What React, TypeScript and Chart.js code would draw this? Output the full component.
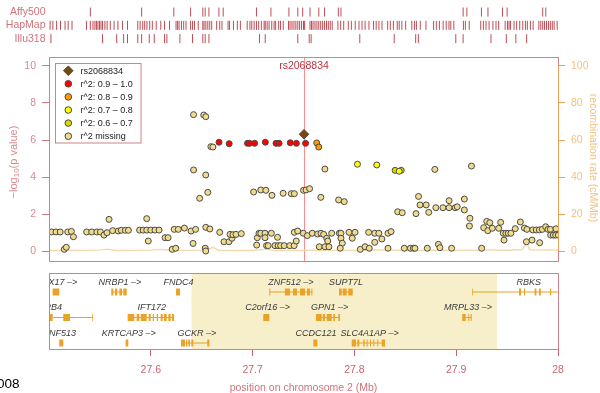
import { useEffect, useRef } from 'react';
import { Chart, registerables } from 'chart.js';

Chart.register(...registerables);

const FONT = '"Liberation Sans", Arial, Helvetica, sans-serif';

// ---------- axis data ----------
const xTicks = [27.6, 27.7, 27.8, 27.9, 28];
const yTicks = [0, 2, 4, 6, 8, 10];
const recombTicks = [0, 20, 40, 60, 80, 100];
const highlightRegion = [27.64, 27.94];
const indexName = 'rs2068834';

// ---------- association results (position Mb, -log10 p) ----------
const indexSnp: [number, number][] = [[27.7505, 6.31]];
const snpR2_09_10: [number, number][] = [
  [27.667, 5.88], [27.677, 5.8], [27.695, 5.82], [27.697, 5.82], [27.702, 5.82], [27.7125, 5.88],
  [27.723, 5.82], [27.726, 5.82], [27.737, 5.85], [27.743, 5.82], [27.752, 5.82],
];
const snpR2_08_09: [number, number][] = [[27.763, 5.84], [27.765, 5.62]];
const snpR2_07_08: [number, number][] = [[27.803, 4.69], [27.822, 4.65], [27.844, 4.31]];
const snpR2_06_07: [number, number][] = [[27.84, 4.36], [27.846, 4.36]];
const snpR2Missing: [number, number][] = [
  [27.5026, 1.03], [27.5069, 1.03], [27.511, 1.03], [27.5184, 1.03], [27.522, 1.06], [27.524, 0.77],
  [27.515, 0.09], [27.517, 0.2], [27.537, 1.03], [27.542, 1.03], [27.547, 1.03], [27.5505, 1.03],
  [27.554, 0.86], [27.557, 0.99], [27.559, 1.71], [27.5625, 1.1], [27.568, 1.08], [27.571, 1.12],
  [27.575, 1.12], [27.578, 1.12], [27.589, 1.13], [27.5925, 1.13], [27.596, 1.13], [27.6, 1.13],
  [27.596, 1.75], [27.5975, 0.54], [27.6041, 1.13], [27.6081, 1.13], [27.614, 0.72], [27.617, 0.72],
  [27.623, 1.17], [27.627, 1.17], [27.633, 1.24], [27.6395, 1.08], [27.644, 1.17], [27.6415, 0.41],
  [27.621, 0.09], [27.6245, 0.15], [27.654, 1.28], [27.658, 1.19], [27.6535, 0.15], [27.654, 0.0],
  [27.6677, 1.01], [27.6719, 0.5], [27.6768, 0.5], [27.6798, 0.69], [27.6778, 0.9], [27.6807, 0.88],
  [27.6837, 0.9], [27.6889, 0.94], [27.7046, 0.72], [27.704, 0.32], [27.7063, 0.96], [27.708, 0.96],
  [27.7122, 0.96], [27.7184, 0.96], [27.7122, 0.72], [27.7245, 0.74], [27.7137, 0.29], [27.7153, 0.29],
  [27.722, 0.29], [27.7251, 0.29], [27.7275, 0.29], [27.731, 0.29], [27.7365, 0.29], [27.7408, 0.29],
  [27.7429, 0.54], [27.741, 1.01], [27.7443, 1.08], [27.7498, 0.96], [27.7537, 0.83], [27.7586, 0.96],
  [27.7639, 0.92], [27.7672, 0.96], [27.7698, 0.9], [27.7728, 0.69], [27.7738, 0.54], [27.7777, 0.96],
  [27.7852, 0.96], [27.7868, 0.96], [27.7868, 0.69], [27.7881, 0.42], [27.7947, 1.01], [27.8006, 1.01],
  [27.7979, 0.69], [27.7655, 0.23], [27.7711, 0.23], [27.775, 0.23], [27.7861, 0.15], [27.8058, 0.09],
  [27.8104, 0.23], [27.8146, 0.15], [27.814, 1.01], [27.82, 0.96], [27.824, 0.96], [27.833, 0.96],
  [27.836, 1.05], [27.82, 0.47], [27.827, 0.65], [27.833, 0.15], [27.849, 0.15], [27.855, 0.15],
  [27.858, 0.15], [27.8595, 0.15], [27.8716, 0.15], [27.8825, 0.36], [27.884, 0.18], [27.8955, 0.15],
  [27.648, 2.85], [27.656, 3.17], [27.701, 3.19], [27.708, 3.3], [27.713, 3.28], [27.719, 3.01],
  [27.73, 3.12], [27.738, 3.1], [27.741, 3.1], [27.75, 3.28], [27.7525, 3.3], [27.756, 3.37],
  [27.767, 2.9], [27.7845, 2.76], [27.79, 2.67], [27.8425, 2.12], [27.847, 2.07], [27.8605, 2.02],
  [27.863, 2.95], [27.8645, 2.49], [27.8705, 2.49], [27.873, 2.09], [27.88, 2.34], [27.887, 2.34],
  [27.893, 2.34], [27.893, 2.72], [27.899, 2.34], [27.901, 2.39], [27.908, 2.22], [27.908, 2.81],
  [27.9135, 1.77], [27.913, 1.35], [27.642, 7.37], [27.652, 7.35], [27.654, 7.26], [27.659, 5.64],
  [27.661, 5.62], [27.642, 4.38], [27.654, 4.11], [27.771, 4.43], [27.879, 4.41], [27.915, 4.59],
  [27.925, 0.15], [27.927, 1.26], [27.93, 1.6], [27.931, 1.1], [27.933, 1.53], [27.9355, 1.23],
  [27.9417, 1.23], [27.9437, 1.55], [27.9462, 0.96], [27.947, 0.59], [27.9488, 0.96], [27.9511, 0.96],
  [27.9537, 0.96], [27.958, 1.21], [27.963, 1.57], [27.967, 1.24], [27.969, 0.5], [27.9695, 1.17],
  [27.9745, 0.59], [27.9752, 1.14], [27.9787, 1.14], [27.9817, 1.14], [27.982, 0.45], [27.9846, 1.17],
  [27.9879, 1.31], [27.9902, 1.17], [27.9925, 1.17], [27.9928, 0.86], [27.9954, 0.86], [27.9977, 0.86],
  [27.998, 1.2], [28.0003, 0.86],
];

// ---------- recombination rate (cM/Mb) ----------
const recombPos = [27.5, 27.52, 27.55, 27.558, 27.565, 27.6, 27.61, 27.62, 27.655, 27.661, 27.667, 27.7, 27.714, 27.72, 27.75, 27.76, 27.8, 27.82, 27.85, 27.88, 27.9, 27.93, 27.95, 27.965, 27.9695, 27.972, 27.975, 27.99, 28.0];
const recombRate = [0.3, 0.3, 0.5, 1.0, 0.3, 0.5, 0.9, 0.3, 0.5, 2.0, 0.3, 0.3, 1.0, 0.3, 0.3, 0.5, 0.3, 0.6, 0.3, 0.5, 0.3, 0.6, 0.4, 0.8, 4.5, 0.8, 0.5, 0.6, 0.4];

// ---------- marker tracks (rows: Affy500=3, HapMap=2, Illu318=1) ----------
const trackNames = ['Affy500', 'HapMap', 'Illu318'];
const trackRows = [3, 2, 1];
const affy500 = [27.5406, 27.591, 27.6226, 27.6391, 27.6511, 27.6534, 27.6571, 27.6669, 27.6711, 27.7038, 27.718, 27.7357, 27.7444, 27.7492, 27.7564, 27.765, 27.7707, 27.7842, 27.7868, 27.9068, 27.9105, 27.9248, 27.9312, 27.9455, 27.95, 27.985, 27.988];
const hapMap = [27.5011, 27.5038, 27.5075, 27.5113, 27.5158, 27.5188, 27.5226, 27.5368, 27.5406, 27.5432, 27.5451, 27.5466, 27.5481, 27.5496, 27.5511, 27.5526, 27.5549, 27.5571, 27.5602, 27.5639, 27.5677, 27.5722, 27.5771, 27.5872, 27.5895, 27.5921, 27.594, 27.5962, 27.5989, 27.6015, 27.6053, 27.6098, 27.6135, 27.6184, 27.6248, 27.6263, 27.6278, 27.6301, 27.6323, 27.6346, 27.6391, 27.641, 27.6429, 27.6466, 27.6511, 27.6523, 27.6541, 27.656, 27.6579, 27.6598, 27.6647, 27.6677, 27.6699, 27.6759, 27.6774, 27.6812, 27.685, 27.688, 27.6947, 27.6974, 27.6992, 27.7015, 27.7038, 27.706, 27.7086, 27.7113, 27.7124, 27.7143, 27.7162, 27.7188, 27.7211, 27.7226, 27.7256, 27.7274, 27.7301, 27.7353, 27.7368, 27.7387, 27.7406, 27.7425, 27.7444, 27.7462, 27.7481, 27.75, 27.7511, 27.7564, 27.7579, 27.7594, 27.7613, 27.7632, 27.765, 27.7669, 27.7688, 27.7707, 27.7726, 27.7744, 27.7763, 27.7782, 27.7838, 27.7865, 27.7895, 27.794, 27.797, 27.8008, 27.8045, 27.8075, 27.8105, 27.8143, 27.8188, 27.8214, 27.8241, 27.8271, 27.8327, 27.8353, 27.8383, 27.8421, 27.844, 27.8466, 27.8504, 27.8564, 27.859, 27.8609, 27.8647, 27.8703, 27.8778, 27.8805, 27.8835, 27.8872, 27.8902, 27.8929, 27.8947, 27.8977, 27.9071, 27.909, 27.9128, 27.9241, 27.9267, 27.9293, 27.9323, 27.9361, 27.9391, 27.9417, 27.9481, 27.9504, 27.9519, 27.9534, 27.9568, 27.9594, 27.9624, 27.9654, 27.968, 27.9699, 27.9729, 27.9756, 27.9812, 27.9831, 27.985, 27.9868, 27.9887, 27.9906, 27.9925, 27.9944, 27.9962, 27.9992];
const illu318 = [27.5019, 27.5526, 27.5665, 27.5733, 27.5771, 27.5872, 27.591, 27.5985, 27.6034, 27.6135, 27.6158, 27.6286, 27.641, 27.6511, 27.6534, 27.6571, 27.7068, 27.7124, 27.7444, 27.7556, 27.7575, 27.8053, 27.8391, 27.8602, 27.8628, 27.8996, 27.9068, 27.9342, 27.9492, 27.9586, 27.9692];

// ---------- genes (rows: 3 top, 2 middle, 1 bottom) ----------
const geneNames = ['SNX17 \u2013>', 'NRBP1 \u2013>', 'FNDC4', 'ZNF512 \u2013>', 'SUPT7L', 'RBKS', 'EIF2B4', 'IFT172', 'C2orf16 \u2013>', 'GPN1 \u2013>', 'MRPL33 \u2013>', 'ZNF513', 'KRTCAP3 \u2013>', 'GCKR \u2013>', 'CCDC121', 'SLC4A1AP \u2013>'];
const geneRows = [3, 3, 3, 3, 3, 3, 2, 2, 2, 2, 2, 1, 1, 1, 1, 1];
const geneStarts = [27.5036, 27.5612, 27.6248, 27.7164, 27.7849, 27.9158, 27.498, 27.5773, 27.7105, 27.7623, 27.906, 27.5101, 27.5753, 27.6297, 27.7597, 27.7974];
const geneEnds = [27.5101, 27.5763, 27.6287, 27.7587, 27.7983, 28.03, 27.5433, 27.6228, 27.7164, 27.7859, 27.9152, 27.514, 27.5779, 27.6575, 27.7636, 27.8301];
const geneLabelAt = [27.5074, 27.5697, 27.6272, 27.7377, 27.7918, 27.9712, 27.498, 27.6009, 27.7148, 27.7757, 27.9116, 27.5105, 27.5783, 27.6452, 27.7623, 27.815];
const geneExons: [number, number][][] = [
  [[27.5036, 27.5101]],
  [[27.5612, 27.5632], [27.5648, 27.5671], [27.5691, 27.5717], [27.573, 27.5763]],
  [[27.6248, 27.6287]],
  [[27.7164, 27.7174], [27.7318, 27.7367], [27.7397, 27.7436], [27.7466, 27.7515], [27.7534, 27.7564], [27.7577, 27.7587]],
  [[27.7849, 27.7875], [27.7885, 27.7924], [27.794, 27.7983]],
  [[27.9158, 27.9166], [27.9617, 27.9637], [27.9666, 27.9676], [27.977, 27.9788], [27.9813, 27.9831], [27.9921, 27.9933]],
  [[27.498, 27.5036], [27.514, 27.5206], [27.5425, 27.5433]],
  [[27.5773, 27.5838], [27.5861, 27.5887], [27.5901, 27.596], [27.5979, 27.5999], [27.6019, 27.6031], [27.6058, 27.6071], [27.6097, 27.6117], [27.613, 27.6156], [27.6172, 27.6195], [27.6208, 27.6228]],
  [[27.7105, 27.7164]],
  [[27.7623, 27.7679], [27.7689, 27.7711], [27.7728, 27.7777], [27.7793, 27.7809], [27.7842, 27.7859]],
  [[27.906, 27.9093], [27.9119, 27.9129], [27.9142, 27.9152]],
  [[27.5101, 27.514]],
  [[27.5753, 27.5779]],
  [[27.6297, 27.6336], [27.6346, 27.6359], [27.6368, 27.6385], [27.6398, 27.6417], [27.6476, 27.6483], [27.6523, 27.6529], [27.6555, 27.6575]],
  [[27.7597, 27.7636]],
  [[27.7974, 27.8016], [27.8029, 27.8048], [27.8087, 27.8101], [27.8121, 27.8131], [27.8153, 27.8163], [27.8186, 27.8196], [27.8225, 27.8235], [27.8268, 27.8301]],
];

// ---------- styles ----------
const C_AXIS = '#cf7880';
const C_YLAB = '#d98a91';
const C_XLAB = '#c9646e';
const C_BOX = '#d0828a';
const C_RECOMB_AX = '#e9a25a';
const C_RECOMB_LAB = '#f2c27f';
const C_GENE = '#eba227';
const C_TRACK = 'rgba(172,32,42,0.8)';
const C_OUTLINE = '#4a4a4a';

const pts = (a: [number, number][]) => a.map(([x, y]) => ({ x, y }));

export default function App() {
  const ref = useRef<HTMLCanvasElement>(null);

  useEffect(() => {
    const canvas = ref.current;
    if (!canvas) return;

    const exonPts: any[] = [];
    const intronPts: any[] = [];
    geneNames.forEach((_, i) => {
      const r = geneRows[i];
      intronPts.push({ x: geneStarts[i], y: r }, { x: geneEnds[i], y: r }, { x: geneEnds[i], y: null });
      geneExons[i].forEach(([s, e]) => {
        exonPts.push({ x: s, y: r }, { x: e, y: r }, { x: e, y: null });
      });
    });

    const trackData = [affy500, hapMap, illu318];
    const geneClip = { left: 0, right: 0, top: false, bottom: false };

    const pointDs = (label: string, data: [number, number][], color: string, order: number, style = 'circle', radius = 3) => ({
      label,
      data: pts(data),
      yAxisID: 'y',
      backgroundColor: color,
      borderColor: C_OUTLINE,
      borderWidth: 1,
      pointRadius: radius,
      pointStyle: style,
      order,
    });

    const datasets: any[] = [
      pointDs(indexName, indexSnp, '#774a0c', 1, 'rectRot', 4.8),
      pointDs('r^2: 0.9 \u2013 1.0', snpR2_09_10, '#ff0000', 2),
      pointDs('r^2: 0.8 \u2013 0.9', snpR2_08_09, '#ff9a00', 3),
      pointDs('r^2: 0.7 \u2013 0.8', snpR2_07_08, '#ffff00', 4),
      pointDs('r^2: 0.6 \u2013 0.7', snpR2_06_07, '#d8d800', 5),
      pointDs('r^2 missing', snpR2Missing, '#f0da8c', 6),
      {
        label: 'recomb',
        data: recombPos.map((x, i) => ({ x, y: recombRate[i] })),
        yAxisID: 'y2',
        showLine: true,
        borderColor: '#f2d9b0',
        borderWidth: 1.4,
        pointRadius: 0,
        order: 20,
      },
      {
        label: 'introns',
        data: intronPts,
        yAxisID: 'yG',
        showLine: true,
        spanGaps: false,
        borderColor: C_GENE,
        borderWidth: 1.2,
        pointRadius: 0,
        clip: geneClip,
        order: 12,
      },
      {
        label: 'exons',
        data: exonPts,
        yAxisID: 'yG',
        showLine: true,
        spanGaps: false,
        borderColor: C_GENE,
        borderWidth: 7,
        borderCapStyle: 'butt',
        pointRadius: 0,
        clip: geneClip,
        order: 11,
      },
      ...trackData.map((arr, i) => {
        const d: any[] = [];
        arr.forEach((x) => {
          d.push({ x, y: trackRows[i] - 0.34 }, { x, y: trackRows[i] + 0.34 }, { x, y: null });
        });
        return {
          label: trackNames[i],
          data: d,
          yAxisID: 'yT',
          showLine: true,
          spanGaps: false,
          pointRadius: 0,
          borderWidth: 1,
          borderColor: C_TRACK,
          borderCapStyle: 'butt',
          clip: { left: 6, right: 2, top: false, bottom: false },
          order: 15,
        };
      }),
    ];

    const deco = {
      id: 'deco',
      beforeDatasetsDraw(chart: any) {
        const { ctx, chartArea: ca, scales } = chart;
        const x = scales.x, y = scales.y, yG = scales.yG;
        const gTop = Math.round(yG.getPixelForValue(3) - 19);
        const gBot = Math.round(yG.getPixelForValue(1) + 7);
        const mTop = ca.top;
        const mBot = Math.round(y.getPixelForValue(-0.54));
        ctx.save();
        const h0 = x.getPixelForValue(highlightRegion[0]);
        const h1 = x.getPixelForValue(highlightRegion[1]);
        ctx.fillStyle = '#f7efca';
        ctx.fillRect(h0, gTop, h1 - h0, gBot - gTop);
        const ix = Math.round(x.getPixelForValue(indexSnp[0][0])) + 0.5;
        ctx.strokeStyle = '#ff8c8c';
        ctx.lineWidth = 1;
        ctx.beginPath();
        ctx.moveTo(ix, mTop);
        ctx.lineTo(ix, mBot);
        ctx.stroke();
        ctx.restore();
      },
      afterDatasetsDraw(chart: any) {
        const { ctx, chartArea: ca, scales } = chart;
        const x = scales.x, y = scales.y, y2 = scales.y2, yG = scales.yG, yT = scales.yT;
        const L = Math.round(ca.left) + 0.5;
        const R = Math.round(ca.right) + 0.5;
        const mTop = Math.round(ca.top) + 0.5;
        const mBot = Math.round(y.getPixelForValue(-0.54)) + 0.5;
        const gTop = Math.round(yG.getPixelForValue(3) - 19) + 0.5;
        const gBot = Math.round(yG.getPixelForValue(1) + 7) - 0.5;
        ctx.save();

        ctx.save();
        ctx.beginPath();
        ctx.rect(ca.left, gTop, ca.right - ca.left, gBot - gTop);
        ctx.clip();
        ctx.font = `italic 9px ${FONT}`;
        ctx.fillStyle = '#3a3a3a';
        ctx.textAlign = 'center';
        ctx.textBaseline = 'middle';
        geneNames.forEach((name, i) => {
          ctx.fillText(name, x.getPixelForValue(geneLabelAt[i]), yG.getPixelForValue(geneRows[i]) - 10);
        });
        ctx.restore();

        ctx.lineWidth = 1;
        ctx.strokeStyle = C_BOX;
        ctx.strokeRect(L, mTop, R - L, mBot - mTop);
        ctx.strokeRect(L, gTop, R - L, gBot - gTop);

        ctx.strokeStyle = C_RECOMB_AX;
        ctx.beginPath();
        ctx.moveTo(R, y2.getPixelForValue(0));
        ctx.lineTo(R, y2.getPixelForValue(100));
        ctx.stroke();

        ctx.font = `10.5px ${FONT}`;
        ctx.fillStyle = '#cf737b';
        ctx.textAlign = 'right';
        ctx.textBaseline = 'middle';
        trackNames.forEach((n, i) => ctx.fillText(n, ca.left - 3.5, yT.getPixelForValue(trackRows[i])));

        ctx.font = `10.5px ${FONT}`;
        ctx.fillStyle = '#b8343f';
        ctx.textAlign = 'center';
        ctx.fillText(indexName, x.getPixelForValue(indexSnp[0][0]), ca.top + 9.5);

        const lx = 55.5, ly = 63.5, lw = 85.5, lh = 79.5;
        ctx.fillStyle = '#ffffff';
        ctx.fillRect(lx, ly, lw, lh);
        ctx.strokeStyle = C_BOX;
        ctx.strokeRect(lx, ly, lw, lh);
        const legendSets = datasets.slice(0, 6);
        ctx.font = `9px ${FONT}`;
        ctx.textAlign = 'left';
        legendSets.forEach((ds: any, i: number) => {
          const cy = 70.7 + i * 13.1;
          const cx = 68.3;
          ctx.fillStyle = ds.backgroundColor;
          ctx.strokeStyle = C_OUTLINE;
          ctx.lineWidth = 1;
          ctx.beginPath();
          if (ds.pointStyle === 'rectRot') {
            const r = 4.8;
            ctx.moveTo(cx, cy - r);
            ctx.lineTo(cx + r, cy);
            ctx.lineTo(cx, cy + r);
            ctx.lineTo(cx - r, cy);
            ctx.closePath();
          } else {
            ctx.arc(cx, cy, 3.3, 0, Math.PI * 2);
          }
          ctx.fill();
          ctx.stroke();
          ctx.fillStyle = '#222';
          ctx.fillText(ds.label, 80.5, cy + 0.5);
        });

        ctx.save();
        ctx.translate(14, 162);
        ctx.rotate(-Math.PI / 2);
        ctx.fillStyle = C_YLAB;
        ctx.textBaseline = 'middle';
        ctx.textAlign = 'left';
        const f1 = `11px ${FONT}`;
        const f2 = `8px ${FONT}`;
        ctx.font = f1;
        const w1 = ctx.measureText('\u2212log').width;
        const w3 = ctx.measureText('(p value)').width;
        ctx.font = f2;
        const w2 = ctx.measureText('10').width;
        let sx = -(w1 + w2 + w3) / 2;
        ctx.font = f1;
        ctx.fillText('\u2212log', sx, 0);
        sx += w1;
        ctx.font = f2;
        ctx.fillText('10', sx, 3);
        sx += w2;
        ctx.font = f1;
        ctx.fillText('(p value)', sx, 0);
        ctx.restore();

        ctx.save();
        ctx.translate(593, 158);
        ctx.rotate(Math.PI / 2);
        ctx.fillStyle = C_RECOMB_LAB;
        ctx.font = `10.5px ${FONT}`;
        ctx.textAlign = 'center';
        ctx.textBaseline = 'middle';
        ctx.fillText('recombination rate (cM/Mb)', 0, 0);
        ctx.restore();

        ctx.font = `13.5px ${FONT}`;
        ctx.fillStyle = '#000';
        ctx.textAlign = 'left';
        ctx.textBaseline = 'middle';
        ctx.fillText('008', -3, 384);

        ctx.restore();
      },
    };

    const chart = new Chart(canvas, {
      type: 'scatter',
      data: { datasets },
      options: {
        animation: false,
        responsive: false,
        devicePixelRatio: 1,
        events: [],
        layout: { padding: { top: 57, left: 0, right: 0, bottom: 0 } },
        plugins: { legend: { display: false }, tooltip: { enabled: false } },
        scales: {
          x: {
            type: 'linear',
            position: 'bottom',
            min: 27.5,
            max: 28,
            afterBuildTicks: (s: any) => { s.ticks = xTicks.map((v) => ({ value: v })); },
            afterFit: (s: any) => { s.height = 43; },
            ticks: {
              color: C_XLAB,
              font: { family: FONT, size: 10.5 },
              padding: 8,
              maxRotation: 0,
              autoSkip: false,
              callback: (v: any) => String(v),
            },
            grid: { display: true, drawOnChartArea: false, drawTicks: true, tickLength: 6, color: C_XLAB },
            border: { display: false },
            title: {
              display: true,
              text: 'position on chromosome 2 (Mb)',
              color: '#d0727a',
              font: { family: FONT, size: 10.5 },
              padding: { top: 0, bottom: -1 },
            },
          },
          y: {
            type: 'linear',
            position: 'left',
            min: -5.35,
            max: 10.486,
            afterBuildTicks: (s: any) => { s.ticks = yTicks.map((v) => ({ value: v })); },
            afterFit: (s: any) => { s.width = 49; },
            ticks: { color: C_YLAB, font: { family: FONT, size: 10.5 }, padding: 6 },
            grid: { display: true, drawOnChartArea: false, drawTicks: true, tickLength: 7, color: C_AXIS },
            border: { display: false },
          },
          y2: {
            type: 'linear',
            position: 'right',
            min: -53.5,
            max: 104.86,
            afterBuildTicks: (s: any) => { s.ticks = recombTicks.map((v) => ({ value: v })); },
            afterFit: (s: any) => { s.width = 42; },
            ticks: { color: C_RECOMB_LAB, font: { family: FONT, size: 10.5 }, padding: 6 },
            grid: { display: true, drawOnChartArea: false, drawTicks: true, tickLength: 7, color: C_RECOMB_AX },
            border: { display: false },
          },
          yG: { type: 'linear', display: false, min: 0.7255, max: 12.216 },
          yT: { type: 'linear', display: false, min: -22.41, max: -0.38 },
        },
      } as any,
      plugins: [deco],
    });

    return () => chart.destroy();
  }, []);

  return (
    <div style={{ position: 'fixed', left: 0, top: 0, width: 600, height: 393, background: '#ffffff' }}>
      <canvas ref={ref} width={600} height={393} style={{ display: 'block', width: 600, height: 393 }} />
    </div>
  );
}
